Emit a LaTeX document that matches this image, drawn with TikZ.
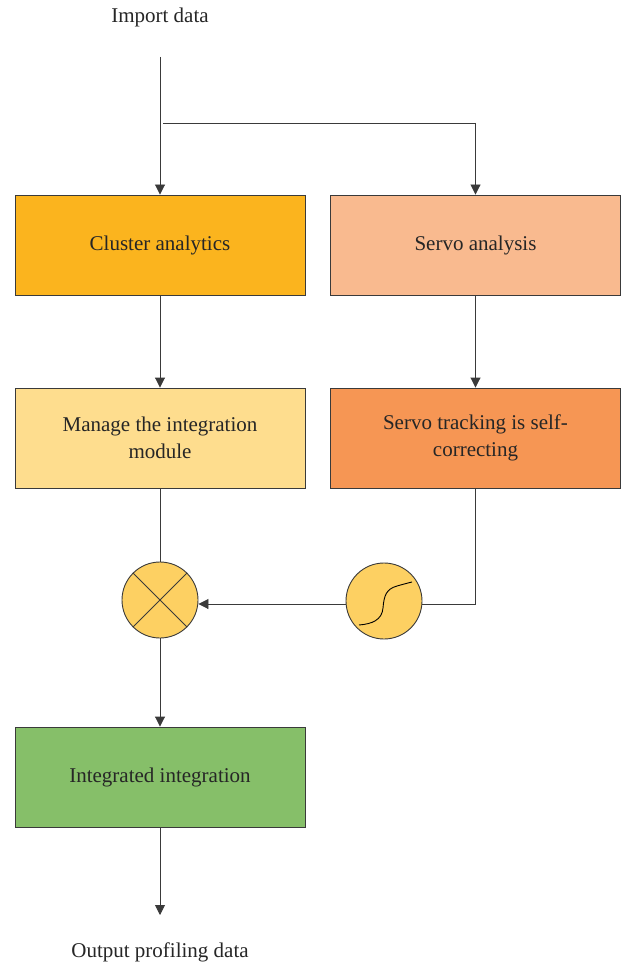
\documentclass[tikz,border=0pt]{standalone}
\usepackage{fontspec}
\setmainfont{Liberation Serif}
\usetikzlibrary{arrows.meta}
\definecolor{cClust}{HTML}{FBB41E}
\definecolor{cServoA}{HTML}{F9BA8F}
\definecolor{cManage}{HTML}{FEDD8E}
\definecolor{cServoT}{HTML}{F69654}
\definecolor{cInteg}{HTML}{86BF69}
\definecolor{cCirc}{HTML}{FDD062}
\definecolor{cLine}{HTML}{3A3A3A}
\tikzset{
  blk/.style={draw=cLine, line width=0.9pt, minimum width=290pt, minimum height=100pt,
    inner sep=0pt, align=center, font=\fontsize{21}{27}\selectfont, text=black!85},
  circ/.style={draw=cLine, line width=0.9pt, circle, fill=cCirc, minimum size=76pt, inner sep=0pt},
  conn/.style={draw=cLine, line width=0.9pt},
  arr/.style={conn, -{Triangle[length=10pt,width=10pt]}},
  lbl/.style={font=\fontsize{21}{25}\selectfont, text=black!85, inner sep=0pt}
}
\begin{document}
\begin{tikzpicture}[x=1pt,y=-1pt]
\useasboundingbox[fill=white] (0,0) rectangle (622,968);
\node[lbl] (in) at (160,17) {Import data};
\node[lbl] (out) at (160,952) {Output profiling data};
\node[blk, fill=cClust] (ca) at (160,245) {Cluster analytics};
\node[blk, fill=cServoA] (sa) at (475.5,245) {Servo analysis};
\node[blk, fill=cManage] (mi) at (160,438) {Manage the integration\\module};
\node[blk, fill=cServoT] (st) at (475.5,438) {Servo tracking is self-\\correcting};
\node[blk, fill=cInteg] (ii) at (160,777) {Integrated integration};
\node[circ] (mx) at (160,600) {};
\node[circ] (sg) at (384,601) {};
\draw[cLine, line width=0.9pt] (mx.north west) -- (mx.south east) (mx.north east) -- (mx.south west);
\draw[black, line width=0.9pt] (359,625) .. controls (372,624) and (382,620) .. (383,608)
  .. controls (384,596) and (386,589) .. (397,586) .. controls (404,584) and (408,583) .. (412,582);
\coordinate (top) at (160,57);
\coordinate (br) at (163,123);
\coordinate (brR) at (475.5,123);
\coordinate (turn) at (475.5,604);
\coordinate (outend) at (160,915);
\draw[arr] (top) -- (ca.north);
\draw[conn] (br) -- (brR);
\draw[arr] (brR) -- (sa.north);
\draw[arr] (ca.south) -- (mi.north);
\draw[arr] (sa.south) -- (st.north);
\draw[conn] (mi.south) -- (mx.north);
\draw[conn] (st.south) -- (turn) -- (sg.east |- turn);
\draw[arr] (sg.west |- turn) -- (mx.east |- turn);
\draw[arr] (mx.south) -- (ii.north);
\draw[arr] (ii.south) -- (outend);
\end{tikzpicture}
\end{document}
